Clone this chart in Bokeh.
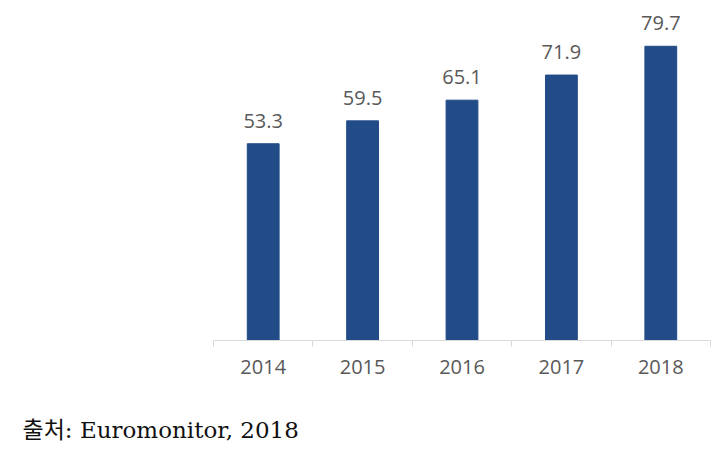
from bokeh.plotting import figure
from bokeh.models import ColumnDataSource, Range1d, FixedTicker, Title
from bokeh.core.properties import value
from bokeh.embed import file_html
from bokeh.resources import INLINE

years = ["2014", "2015", "2016", "2017", "2018"]
values = [53.3, 59.5, 65.1, 71.9, 79.7]
value_labels = ["53.3", "59.5", "65.1", "71.9", "79.7"]
source_text = "출처: Euromonitor, 2018"

xs = [i + 0.5 for i in range(len(years))]
src = ColumnDataSource(dict(x=xs, top=values, lab=value_labels))

p = figure(width=728, height=457, output_backend="svg", toolbar_location=None,
           x_range=Range1d(0, len(years)), y_range=Range1d(0, 92.1),
           min_border_left=213, min_border_right=18, min_border_top=0, min_border_bottom=117)
p.outline_line_color = None
p.xgrid.visible = False
p.ygrid.visible = False
p.yaxis.visible = False
p.background_fill_color = "white"
p.border_fill_color = "white"

p.vbar(x="x", top="top", width=0.32, bottom=0, source=src, color="#214C87")
p.text(x="x", y="top", text="lab", source=src, text_align="center", text_baseline="middle",
       y_offset=-23, text_font=value("Open Sans"), text_font_size="20px", text_color="#595959")

ax = p.xaxis[0]
ax.ticker = FixedTicker(ticks=xs, minor_ticks=list(range(len(years) + 1)))
ax.major_label_overrides = {x: y for x, y in zip(xs, years)}
ax.major_tick_line_color = None
ax.minor_tick_line_color = "#d9d9d9"
ax.minor_tick_out = 6
ax.minor_tick_in = 0
ax.axis_line_color = "#d9d9d9"
ax.major_label_text_font = "Open Sans"
ax.major_label_text_font_size = "20px"
ax.major_label_text_color = "#595959"
ax.major_label_standoff = 13
ax.axis_label = " "
ax.axis_label_text_font_size = "12px"
ax.axis_label_standoff = 6

t = Title(text=source_text, align="left", offset=-191, standoff=30,
          text_font="DejaVu Serif, Noto Sans CJK KR", text_font_size="23px",
          text_font_style="normal", text_color="#111111")
p.add_layout(t, "below")

open("out.html", "w").write(file_html(p, INLINE))
